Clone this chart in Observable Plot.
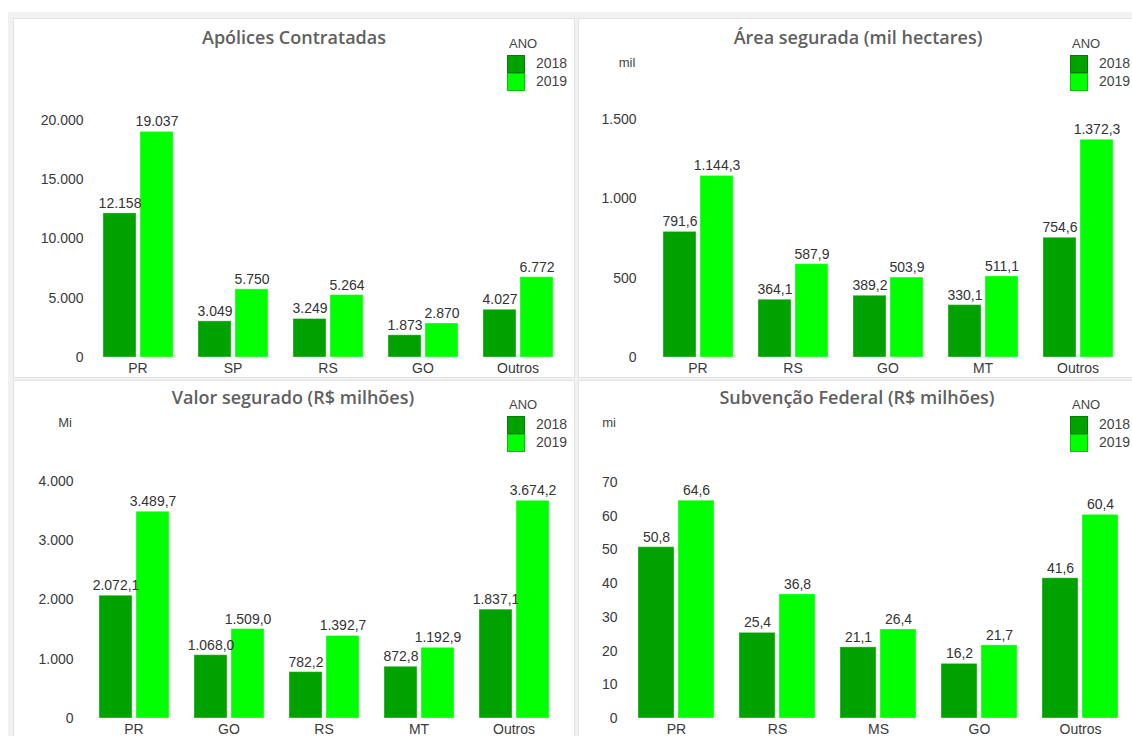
<!DOCTYPE html>
<html>
<head>
<meta charset="utf-8">
<script src="https://cdn.jsdelivr.net/npm/d3@7"></script>
<script src="https://cdn.jsdelivr.net/npm/@observablehq/plot@0.6"></script>
<style>
  body { margin: 0; background: #fff; overflow: hidden; font-family: "Liberation Sans", Arial, sans-serif; }
  #page { position: relative; width: 1132px; height: 736px; overflow: hidden; }
  .bg { position: absolute; left: 8px; top: 12px; width: 1200px; height: 800px; background: #f1f1f1; }
  .panel { position: absolute; background: #fff; border: 1px solid #e3e3e3; box-sizing: border-box; }
  .chart { position: absolute; }
  .title { position: absolute; transform: translate(-50%, -50%); font-family: "Open Sans", sans-serif; font-weight: 600; font-size: 18px; color: #606060; white-space: nowrap; }
  .unit { position: absolute; transform: translate(-50%, -50%); font-size: 13px; color: #444; }
  .lg-title { position: absolute; transform: translateY(-50%); font-size: 13px; color: #444; }
  .lg-sw { position: absolute; width: 18px; height: 18px; box-sizing: border-box; border: 1px solid rgba(0,0,0,0.22); }
  .lg-lab { position: absolute; transform: translateY(-50%); font-size: 14px; color: #444; }
</style>
</head>
<body>
<div id="page"><div class="bg"></div></div>
<script>
// ---------- data ----------
const years = ["2018", "2019"];
const yearColors = ["#00a200", "#00ff00"];
const legendTitle = "ANO";

const apoTitle = "Apólices Contratadas";
const apoCats = ["PR", "SP", "RS", "GO", "Outros"];
const apo2018 = [12158, 3049, 3249, 1873, 4027];
const apo2019 = [19037, 5750, 5264, 2870, 6772];
const apoTicks = [0, 5000, 10000, 15000, 20000];

const areaTitle = "Área segurada (mil hectares)";
const areaUnit = "mil";
const areaCats = ["PR", "RS", "GO", "MT", "Outros"];
const area2018 = [791.6, 364.1, 389.2, 330.1, 754.6];
const area2019 = [1144.3, 587.9, 503.9, 511.1, 1372.3];
const areaTicks = [0, 500, 1000, 1500];

const valTitle = "Valor segurado (R$ milhões)";
const valUnit = "Mi";
const valCats = ["PR", "GO", "RS", "MT", "Outros"];
const val2018 = [2072.1, 1068.0, 782.2, 872.8, 1837.1];
const val2019 = [3489.7, 1509.0, 1392.7, 1192.9, 3674.2];
const valTicks = [0, 1000, 2000, 3000, 4000];

const subTitle = "Subvenção Federal (R$ milhões)";
const subUnit = "mi";
const subCats = ["PR", "RS", "MS", "GO", "Outros"];
const sub2018 = [50.8, 25.4, 21.1, 16.2, 41.6];
const sub2019 = [64.6, 36.8, 26.4, 21.7, 60.4];
const subTicks = [0, 10, 20, 30, 40, 50, 60, 70];

// ---------- helpers ----------
const br = d3.formatLocale({decimal: ",", thousands: ".", grouping: [3], currency: ["R$", ""]});
const fInt = br.format(",d");
const f1 = br.format(",.1f");
const page = document.getElementById("page");

function el(cls, x, y, text, extra = {}) {
  const d = document.createElement("div");
  d.className = cls;
  d.style.left = x + "px";
  d.style.top = y + "px";
  if (text != null) d.textContent = text;
  Object.assign(d.style, extra);
  page.appendChild(d);
  return d;
}

function panelBox(x, y, w, h) {
  const d = el("panel", x, y, null);
  d.style.width = w + "px";
  d.style.height = h + "px";
}

function chart(o) {
  const data = o.cats.flatMap((c, i) => [
    {cat: c, year: years[0], value: o.v18[i]},
    {cat: c, year: years[1], value: o.v19[i]}
  ]);
  const svg = Plot.plot({
    width: o.width, height: o.height,
    marginLeft: o.ml, marginRight: o.mr, marginTop: o.mt, marginBottom: o.mb,
    style: {fontFamily: "'Liberation Sans', Arial, sans-serif", fontSize: "14px", color: "#3a3a3a", background: "transparent", overflow: "visible"},
    fx: {domain: o.cats, paddingInner: 0.248, paddingOuter: 0, label: null, tickSize: 0, tickPadding: 6, axis: "bottom"},
    x: {domain: years, paddingInner: 0.11, paddingOuter: 0, axis: null},
    y: {domain: [o.ticks[0], o.ticks[o.ticks.length - 1]], ticks: o.ticks, tickFormat: fInt, tickSize: 0, tickPadding: o.tickPad, label: null},
    color: {domain: years, range: yearColors},
    marks: [
      Plot.barY(data, {fx: "cat", x: "year", y: "value", fill: "year", stroke: "#ffffff", strokeOpacity: 0.35, strokeWidth: 1}),
      Plot.text(data, {fx: "cat", x: "year", y: "value", text: d => o.fmt(d.value), dy: -10, fill: "#333"})
    ]
  });
  const wrap = document.createElement("div");
  wrap.className = "chart";
  wrap.style.left = o.left + "px";
  wrap.style.top = o.top + "px";
  wrap.appendChild(svg);
  page.appendChild(wrap);
}

function legend(x, y) {
  el("lg-title", x + 2, y, legendTitle);
  years.forEach((yr, i) => {
    el("lg-sw", x, y + 12 + i * 18, null, {background: yearColors[i]});
    el("lg-lab", x + 29, y + 20 + i * 18, yr);
  });
}

// ---------- panels ----------
panelBox(13, 18, 562, 360);
panelBox(578, 18, 600, 360);
panelBox(13, 380, 562, 400);
panelBox(578, 380, 600, 400);

chart({cats: apoCats, v18: apo2018, v19: apo2019, ticks: apoTicks, fmt: fInt,
  left: 0, top: 18, width: 575, height: 361, ml: 101, mr: 21, mt: 102, mb: 22, tickPad: 19});
chart({cats: areaCats, v18: area2018, v19: area2019, ticks: areaTicks, fmt: f1,
  left: 570, top: 18, width: 562, height: 361, ml: 92, mr: 18, mt: 101, mb: 22, tickPad: 26});
chart({cats: valCats, v18: val2018, v19: val2019, ticks: valTicks, fmt: f1,
  left: 0, top: 380, width: 575, height: 360, ml: 97, mr: 24, mt: 101, mb: 22, tickPad: 25});
chart({cats: subCats, v18: sub2018, v19: sub2019, ticks: subTicks, fmt: f1,
  left: 570, top: 380, width: 562, height: 360, ml: 66, mr: 13, mt: 102, mb: 22, tickPad: 21});

el("title", 294, 37, apoTitle);
el("title", 858, 37, areaTitle);
el("title", 293, 397, valTitle);
el("title", 857, 397, subTitle);

el("unit", 627, 62, areaUnit);
el("unit", 65, 422, valUnit);
el("unit", 609, 422, subUnit);

legend(507, 43);
legend(1070, 43);
legend(507, 404);
legend(1070, 404);
</script>
</body>
</html>
